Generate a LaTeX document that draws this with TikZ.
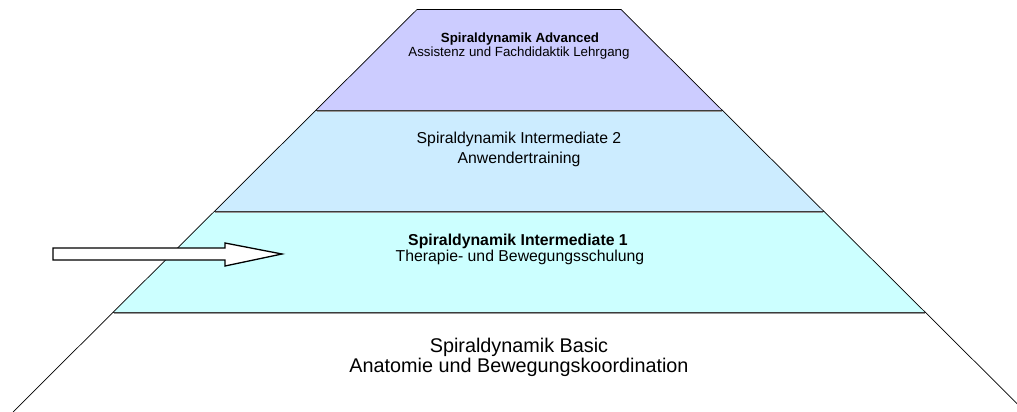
\documentclass[tikz,border=0pt]{standalone}
\usepackage{fontspec}
\setmainfont{Liberation Sans}
\usetikzlibrary{calc}
\definecolor{advfill}{RGB}{204,204,255}
\definecolor{intzfill}{RGB}{204,236,255}
\definecolor{inteinsfill}{RGB}{204,255,255}
\definecolor{rimgray}{RGB}{60,60,60}
\definecolor{shadegray}{RGB}{150,150,150}

\begin{document}
\begin{tikzpicture}[x=1pt, y=-1pt,
    advtext/.style={anchor=base, inner sep=0pt, font=\fontsize{13.3}{16}\selectfont},
    midtext/.style={anchor=base, inner sep=0pt, font=\fontsize{15.8}{19}\selectfont},
    basetext/.style={anchor=base, inner sep=0pt, font=\fontsize{19.8}{24}\selectfont},
    side/.style={line width=0.7pt, black},
    rim/.style={line width=1.1pt, rimgray}]
  \useasboundingbox (0,0) rectangle (1017,412);
  \clip (0,0) rectangle (1017,412);

  % Layer fills
  \foreach \yt/\yb/\lt/\lb/\rt/\rb/\c in {9.5/110.5/417/315.5/621/722.5/advfill,
      110.5/211.5/315.5/214/722.5/824/intzfill, 211.5/312.5/214/113/824/925.5/inteinsfill} {
    \fill[\c] (\lt,\yt) -- (\rt,\yt) -- (\rb,\yb) -- (\lb,\yb) -- cycle;
  }

  % Layer borders
  \foreach \y/\l/\r in {110.5/315.5/722.5, 211.5/214/824, 312.5/113/925.5} {
    \draw[line width=1.2pt, shadegray] (\l+1,\y+1.2) -- (\r-1,\y+1.2);
    \draw[rim] (\l,\y) -- (\r,\y);
  }

  % Outline of the pyramid
  \draw[side] (13,412) -- (417,9.5) -- (621,9.5) -- (1025.5,412);

  % Texts
  \node[advtext] (advtitle) at (520,43) {\bfseries Spiraldynamik Advanced};
  \node[advtext] (advsub) at (519,57) {Assistenz und Fachdidaktik Lehrgang};
  \node[midtext] (intztitle) at (519,143) {Spiraldynamik Intermediate 2};
  \node[midtext] (intzsub) at (519,163) {Anwendertraining};
  \node[midtext] (inteinstitle) at (518,245.5) {\bfseries Spiraldynamik Intermediate 1};
  \node[midtext] (inteinssub) at (520,261) {Therapie- und Bewegungsschulung};
  \node[basetext] (basictitle) at (519,352) {Spiraldynamik Basic};
  \node[basetext] (basicsub) at (519,372) {Anatomie und Bewegungskoordination};

  % Arrow pointing at the current level
  \draw[line width=1.3pt, fill=white] (53,248) -- (225,248) -- (225,243) -- (282,254)
    -- (225,266) -- (225,260) -- (53,260) -- cycle;
\end{tikzpicture}
\end{document}
